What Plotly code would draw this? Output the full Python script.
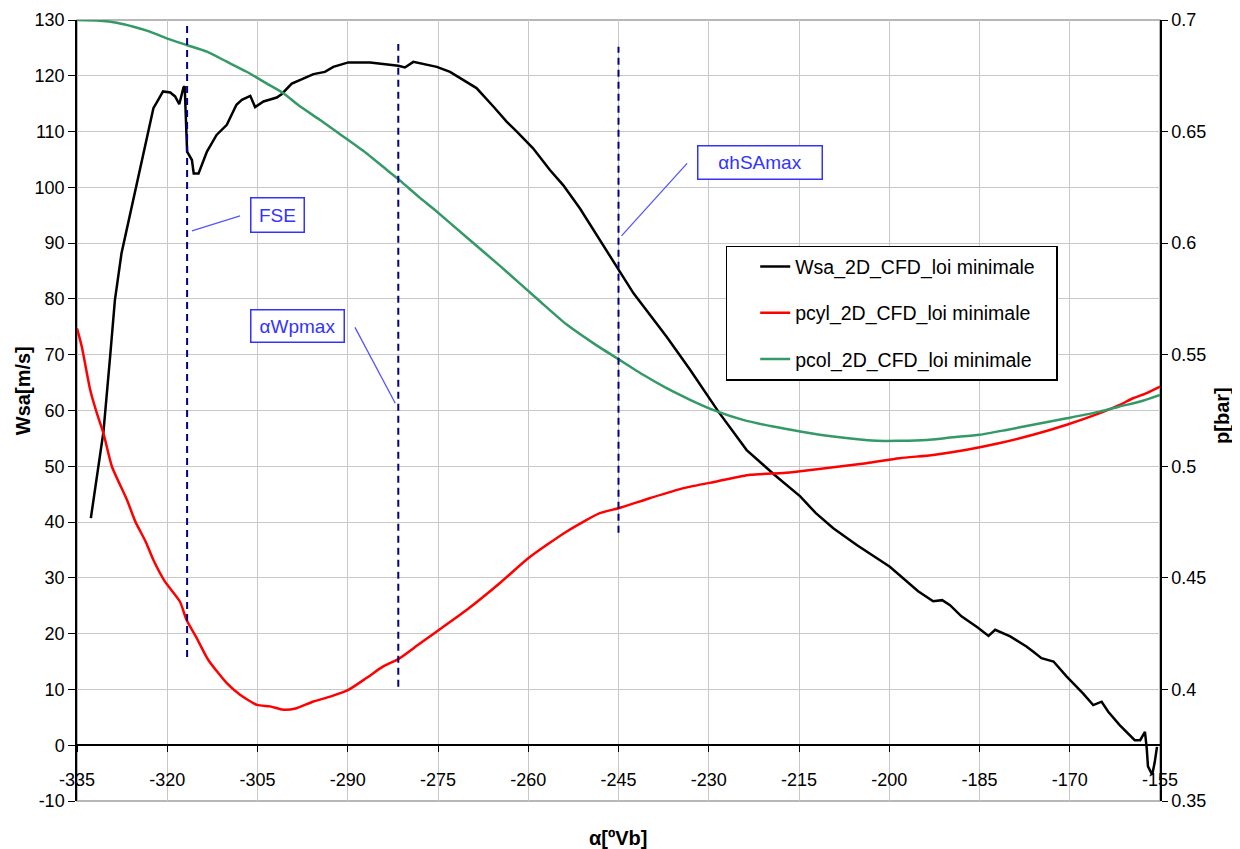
import plotly.graph_objects as go

# ---- data ----
wsa_x = [-332.7, -330.6, -329.5, -328.7, -327.6, -326.5, -325.4, -324.0, -323.2, -322.3,
         -321.5, -320.7, -319.5, -318.7, -318.0, -317.3, -317.1, -316.9, -316.7, -315.9,
         -315.6, -314.8, -313.4, -311.8, -310.1, -308.5, -307.6, -306.2, -305.4, -304.0,
         -301.8, -301.0, -299.3, -297.4, -295.7, -293.8, -292.4, -289.9, -286.3, -281.6,
         -280.5, -279.1, -277.4, -275.2, -273.0, -270.2, -268.6, -265.8, -263.6, -261.9,
         -259.2, -256.4, -254.2, -251.4, -248.1, -245.0, -242.5, -237.0, -233.1, -228.4,
         -223.7, -219.0, -214.8, -212.2, -209.3, -205.4, -199.9, -195.2, -192.7, -191.2,
         -189.9, -188.0, -185.3, -183.5, -182.4, -179.9, -177.2, -176.1, -174.7, -172.7,
         -170.5, -167.8, -166.1, -164.7, -163.6, -161.7, -159.2, -158.3, -157.5, -157.2,
         -157.0, -156.3, -155.9, -155.5]
wsa_y = [40.7, 56.2, 69.6, 79.8, 88.2, 93.6, 99.5, 106.1, 109.7, 114.2,
         115.7, 117.2, 117.0, 116.3, 114.9, 117.9, 118.1, 112.7, 106.4, 104.9,
         102.5, 102.5, 106.4, 109.4, 111.2, 114.8, 115.7, 116.4, 114.4, 115.4,
         116.1, 116.7, 118.6, 119.5, 120.3, 120.7, 121.6, 122.4, 122.4, 121.8,
         121.5, 122.5, 122.1, 121.6, 120.7, 118.9, 117.8, 114.5, 111.8, 110.0,
         107.0, 103.1, 100.4, 96.2, 90.6, 85.2, 81.0, 73.2, 67.3, 59.8,
         52.9, 48.4, 44.6, 41.6, 38.9, 35.9, 32.0, 27.6, 25.8, 26.0,
         25.1, 23.1, 21.1, 19.6, 20.7, 19.5, 17.7, 16.8, 15.6, 15.0,
         12.3, 9.3, 7.2, 7.8, 6.0, 3.6, 0.9, 0.9, 2.4, -0.6,
         -3.8, -5.3, -3.2, -0.3]

pcyl_x = [-335.0, -334.2, -332.8, -331.7, -330.6, -329.2, -326.7, -325.3, -323.6, -322.3,
          -320.4, -317.9, -316.8, -315.1, -313.2, -310.1, -307.9, -305.1, -302.9, -300.7,
          -298.5, -295.7, -292.9, -289.9, -286.9, -284.1, -281.6, -278.3, -275.2, -270.2,
          -264.7, -260.0, -253.6, -248.1, -245.0, -239.8, -234.2, -228.7, -223.1, -217.6,
          -214.8, -209.3, -203.8, -198.3, -192.7, -187.1, -181.6, -176.1, -170.5, -165.0,
          -161.7, -159.5, -157.2, -155.0]
pcyl_y = [0.5618, 0.5536, 0.5342, 0.5238, 0.5148, 0.4999, 0.4850, 0.4752, 0.4663, 0.4580,
          0.4484, 0.4394, 0.4312, 0.4230, 0.4133, 0.4028, 0.3976, 0.3931, 0.3924, 0.3909,
          0.3916, 0.3946, 0.3968, 0.3998, 0.4051, 0.4103, 0.4136, 0.4200, 0.4260, 0.4357,
          0.4477, 0.4588, 0.4708, 0.4790, 0.4812, 0.4857, 0.4902, 0.4932, 0.4962, 0.4970,
          0.4978, 0.4996, 0.5014, 0.5036, 0.5051, 0.5074, 0.5104, 0.5141, 0.5186, 0.5238,
          0.5275, 0.5305, 0.5328, 0.5357]

pcol_x = [-335.0, -331.2, -328.4, -325.6, -322.9, -320.1, -316.8, -313.4, -310.1, -306.8,
          -303.5, -300.7, -297.9, -294.6, -290.7, -286.9, -283.5, -281.3, -278.0, -275.8,
          -270.2, -264.7, -258.3, -253.6, -249.2, -245.0, -240.9, -237.0, -233.1, -229.3,
          -224.3, -219.3, -214.8, -209.3, -202.1, -198.3, -193.8, -189.4, -185.0, -180.5,
          -176.1, -170.5, -165.0, -161.7, -158.3, -155.0]
pcol_y = [0.7000, 0.6997, 0.6988, 0.6970, 0.6948, 0.6918, 0.6888, 0.6858, 0.6813, 0.6768,
          0.6716, 0.6672, 0.6612, 0.6552, 0.6477, 0.6403, 0.6328, 0.6280, 0.6203, 0.6155,
          0.6025, 0.5898, 0.5745, 0.5635, 0.5552, 0.5480, 0.5410, 0.5350, 0.5298, 0.5253,
          0.5208, 0.5178, 0.5156, 0.5133, 0.5114, 0.5114, 0.5118, 0.5130, 0.5141, 0.5163,
          0.5186, 0.5215, 0.5245, 0.5268, 0.5290, 0.5320]

series_names = ["Wsa_2D_CFD_loi minimale", "pcyl_2D_CFD_loi minimale", "pcol_2D_CFD_loi minimale"]

# vertical markers (angle, lower end, upper end on Wsa axis)
marker_x = [-316.7, -281.6, -245.0]
marker_y0 = [15.8, 10.5, 38.1]
marker_y1 = [129.6, 125.7, 125.2]

# callouts: label, box centre, leader start, leader end
callout_text = ["FSE", "αWpmax", "αhSAmax"]
callout_x = [-301.6, -298.3, -221.4]
callout_y = [95.0, 75.1, 104.5]
leader_x0 = [-307.9, -288.8, -233.6]
leader_y0 = [94.9, 74.9, 104.3]
leader_x1 = [-315.9, -282.1, -244.5]
leader_y1 = [92.2, 61.3, 91.3]

# tick labels (Excel style, plain hyphen minus)
x_ticks = [-335, -320, -305, -290, -275, -260, -245, -230, -215, -200, -185, -170, -155]
x_labels = ["-335", "-320", "-305", "-290", "-275", "-260", "-245", "-230", "-215",
            "-200", "-185", "-170", "-155"]
w_ticks = [-10, 0, 10, 20, 30, 40, 50, 60, 70, 80, 90, 100, 110, 120, 130]
w_labels = ["-10", "0", "10", "20", "30", "40", "50", "60", "70", "80", "90", "100",
            "110", "120", "130"]
p_ticks = [0.35, 0.4, 0.45, 0.5, 0.55, 0.6, 0.65, 0.7]
p_labels = ["0.35", "0.4", "0.45", "0.5", "0.55", "0.6", "0.65", "0.7"]

FONT = "Liberation Sans, Arial, sans-serif"
GRID = "#c8c8c8"
BLUE = "#3333ff"
PAD = "\u00a0" * 3  # right padding inside the legend box

fig = go.Figure()
fig.add_trace(go.Scatter(x=wsa_x, y=wsa_y, name=series_names[0] + PAD, mode="lines",
                         line=dict(color="black", width=2.5), legendgroup="a"))
fig.add_trace(go.Scatter(x=pcyl_x, y=pcyl_y, name=series_names[1] + PAD, mode="lines",
                         line=dict(color="#ff0000", width=2.5, shape="spline", smoothing=0.6),
                         yaxis="y2", legendgroup="b"))
fig.add_trace(go.Scatter(x=pcol_x, y=pcol_y, name=series_names[2] + PAD, mode="lines",
                         line=dict(color="#339966", width=2.5, shape="spline", smoothing=0.6),
                         yaxis="y2", legendgroup="c"))

# frame (gray top / bottom border)
fig.add_shape(type="rect", xref="paper", yref="paper", x0=0, y0=0, x1=1, y1=1,
              line=dict(color="#a0a0a0", width=1.5), layer="below")

for x, y0, y1 in zip(marker_x, marker_y0, marker_y1):
    fig.add_shape(type="line", xref="x", yref="y", x0=x, x1=x, y0=y0, y1=y1,
                  line=dict(color="#000080", width=2, dash="7px,5px"))

box_w = [44, 84, 115]
box_h = [25, 23, 24]
for i, txt in enumerate(callout_text):
    fig.add_shape(type="line", xref="x", yref="y",
                  x0=leader_x0[i], y0=leader_y0[i], x1=leader_x1[i], y1=leader_y1[i],
                  line=dict(color="#5555ff", width=1.3))
    fig.add_annotation(x=callout_x[i], y=callout_y[i], xref="x", yref="y", text=txt,
                       showarrow=False, font=dict(family=FONT, size=19, color=BLUE),
                       bordercolor=BLUE, borderwidth=1.5, borderpad=4, bgcolor="white",
                       width=box_w[i], height=box_h[i])

# axis titles
title_font = dict(family=FONT, size=20, color="black")
fig.add_annotation(x=-0.0499, y=0.526, xref="paper", yref="paper", text="<b>Wsa[m/s]</b>",
                   textangle=-90, showarrow=False, xanchor="center", yanchor="middle",
                   font=title_font)
fig.add_annotation(x=1.057, y=0.494, xref="paper", yref="paper", text="<b>p[bar]</b>",
                   textangle=-90, showarrow=False, xanchor="center", yanchor="middle",
                   font=title_font)
fig.add_annotation(x=0.4995, y=-0.047, xref="paper", yref="paper", text="<b>α[ºVb]</b>",
                   showarrow=False, xanchor="center", yanchor="middle", font=title_font)

# the page body adds an 8px offset, so the figure is 8px smaller than the window
fig.update_layout(
    width=1232, height=841,
    margin=dict(l=69, r=80, t=12, b=48),
    paper_bgcolor="white", plot_bgcolor="white",
    font=dict(family=FONT, size=18, color="black"),
    xaxis=dict(range=[-335, -155], tickvals=x_ticks, ticktext=x_labels, showgrid=True,
               gridcolor=GRID, gridwidth=1.3, zeroline=False, showline=True,
               linecolor="black", linewidth=1.5, ticks="outside", ticklen=6,
               tickcolor="black", anchor="free", position=10 / 140, ticklabelstandoff=12,
               automargin=False),
    yaxis=dict(range=[-10, 130], tickvals=w_ticks, ticktext=w_labels, showgrid=True,
               gridcolor=GRID, gridwidth=1.3, zeroline=False, showline=True,
               linecolor="black", linewidth=1.5, ticks="outside", ticklen=7,
               tickcolor="black", automargin=False),
    yaxis2=dict(range=[0.35, 0.7], tickvals=p_ticks, ticktext=p_labels, overlaying="y",
                side="right", showgrid=False, zeroline=False, showline=True, linecolor="black",
                linewidth=1.5, ticks="outside", ticklen=6, tickcolor="black",
                automargin=False),
    legend=dict(x=0.599, y=0.711, xanchor="left", yanchor="top", bordercolor="black",
                borderwidth=1.5, bgcolor="white", font=dict(family=FONT, size=19.5),
                tracegroupgap=18, indentation=28),
    showlegend=True,
)

fig.write_html("out.html")
